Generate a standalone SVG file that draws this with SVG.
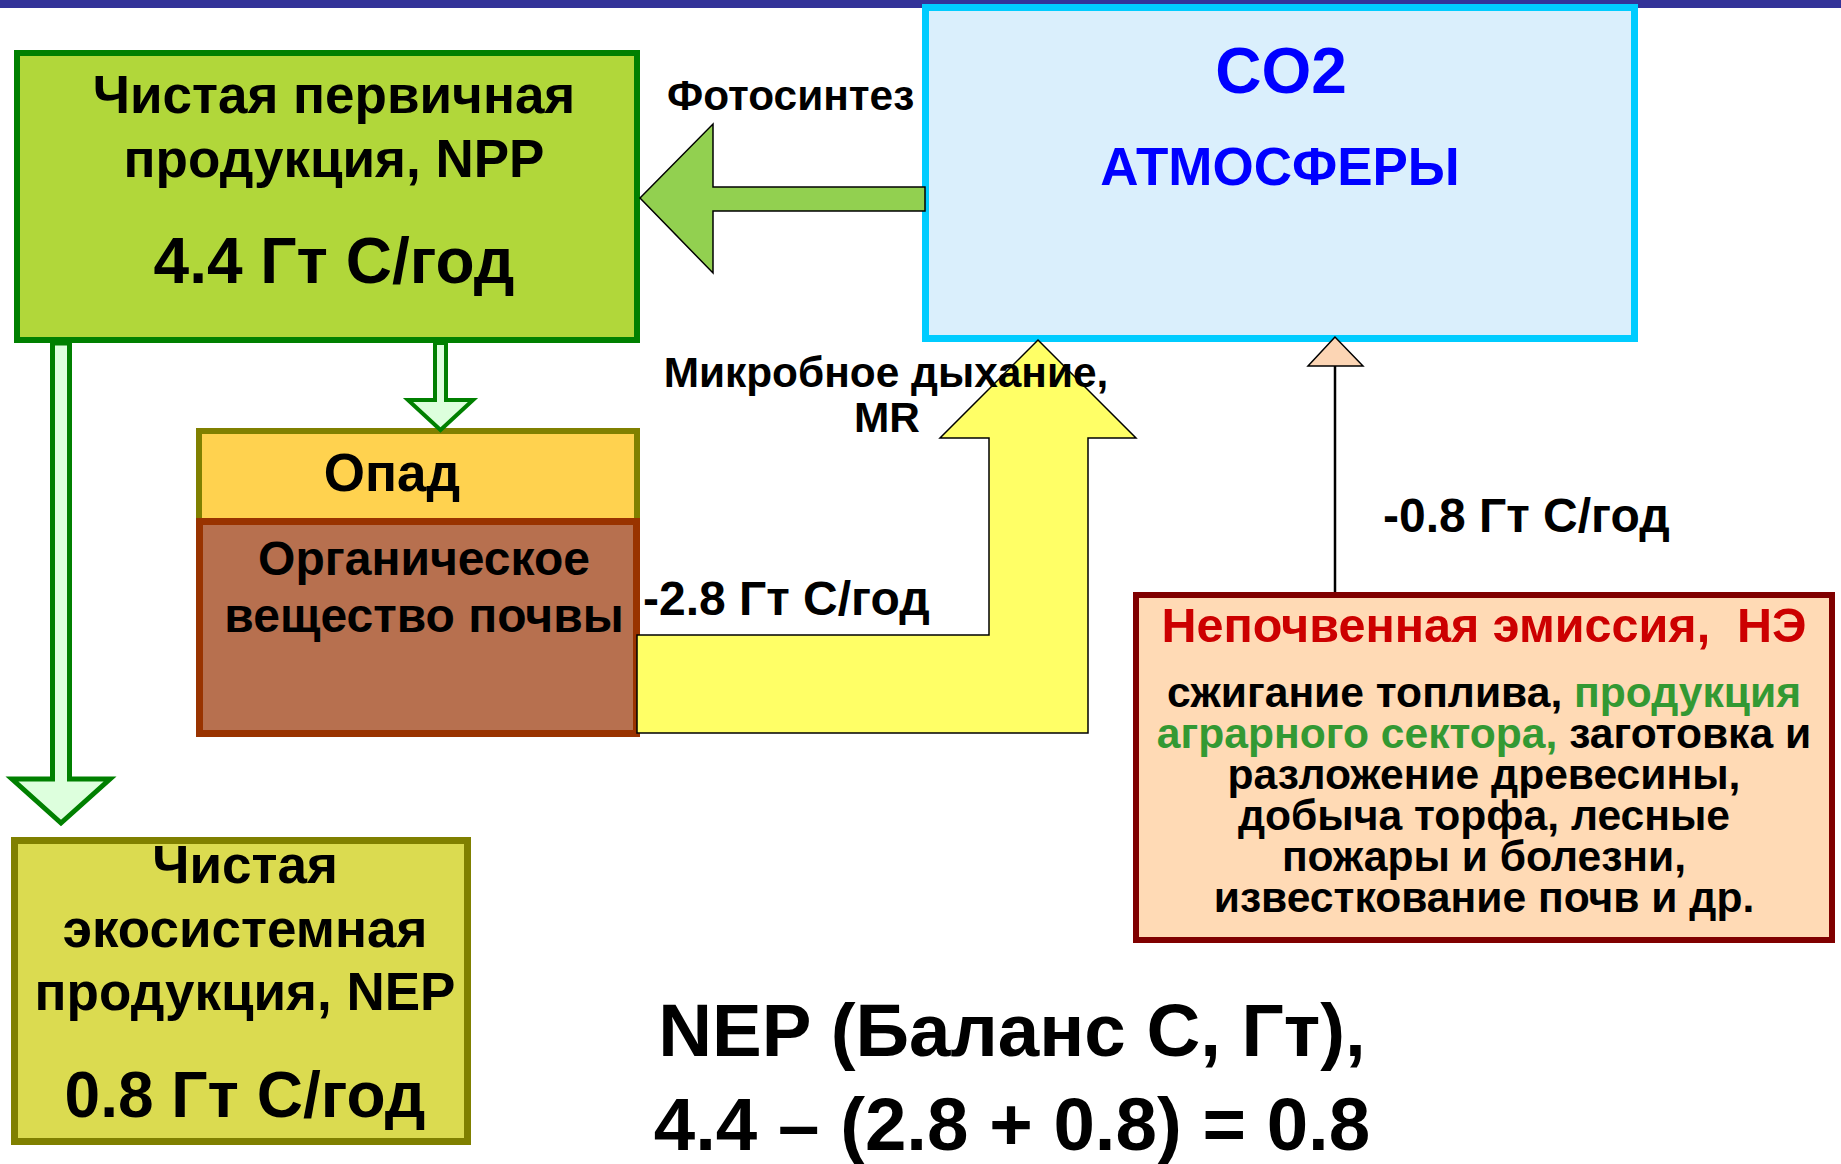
<svg xmlns="http://www.w3.org/2000/svg" width="1841" height="1164" viewBox="0 0 1841 1164">
<style>
text{font-family:"Liberation Sans",Arial,sans-serif;font-weight:bold;fill:#000}
.c{text-anchor:middle}
.blk{stroke:#000;stroke-width:1.5;stroke-linejoin:miter}
.gdown{fill:#DDFFDD;stroke:#008000;stroke-linejoin:miter}
</style>
<rect x="0" y="0" width="1841" height="8" fill="#333399"/>

<g id="npp">
<rect x="17" y="53" width="620" height="287" fill="#B1D73A" stroke="#008000" stroke-width="6"/>
<text class="c" x="334" y="113" font-size="53">Чистая первичная</text>
<text class="c" x="334" y="177" font-size="53">продукция, NPP</text>
<text class="c" x="334" y="283" font-size="64">4.4 Гт С/год</text>
</g>

<g id="co2">
<rect x="925.5" y="7.5" width="709" height="331" fill="#DAEFFC" stroke="#00CCFF" stroke-width="7"/>
<text class="c" x="1281" y="93" font-size="64" style="fill:#0000FF">CO2</text>
<text class="c" x="1280" y="185" font-size="53" style="fill:#0000FF">АТМОСФЕРЫ</text>
</g>

<g id="opad">
<rect x="199" y="431" width="438" height="90" fill="#FFD24F" stroke="#808000" stroke-width="6"/>
<text class="c" x="392" y="491" font-size="53">Опад</text>
</g>

<g id="soil">
<rect x="199.5" y="521.5" width="437" height="212" fill="#B7704F" stroke="#993300" stroke-width="7"/>
<text class="c" x="424" y="575" font-size="48">Органическое</text>
<text class="c" x="424" y="632" font-size="48">вещество почвы</text>
</g>

<g id="nep">
<rect x="14.5" y="840.5" width="453" height="301" fill="#DBDB50" stroke="#808000" stroke-width="7"/>
<text class="c" x="245" y="883" font-size="53">Чистая</text>
<text class="c" x="245" y="947" font-size="53">экосистемная</text>
<text class="c" x="245" y="1010" font-size="53">продукция, NEP</text>
<text class="c" x="245" y="1117" font-size="64">0.8 Гт С/год</text>
</g>

<g id="ne">
<rect x="1136" y="595" width="696" height="345" fill="#FFDAB5" stroke="#800000" stroke-width="6"/>
<text class="c" x="1484" y="642" font-size="48.5" style="fill:#CC0000" xml:space="preserve">Непочвенная эмиссия,  НЭ</text>
<text class="c" x="1484" y="707" font-size="42.6">сжигание топлива, <tspan style="fill:#339933">продукция</tspan></text>
<text class="c" x="1484" y="748" font-size="42.6"><tspan style="fill:#339933">аграрного сектора,</tspan> заготовка и</text>
<text class="c" x="1484" y="789" font-size="42.6">разложение древесины,</text>
<text class="c" x="1484" y="830" font-size="42.6">добыча торфа, лесные</text>
<text class="c" x="1484" y="871" font-size="42.6">пожары и болезни,</text>
<text class="c" x="1484" y="912" font-size="42.6">известкование почв и др.</text>
</g>

<g id="connectors">
<polygon class="blk" fill="#92D050" points="640,198 713,124 713,187 925,187 925,211 713,211 713,273"/>
<polygon class="blk" fill="#FFFF66" points="637,635 989,635 989,438 940,438 1038,340 1136,438 1088,438 1088,733 637,733"/>
<line x1="1335" y1="592" x2="1335" y2="366" stroke="#000" stroke-width="2.5"/>
<polygon class="blk" fill="#FCD5B4" points="1335,337 1308,366 1363,366"/>
<polygon class="gdown" stroke-width="4" points="435,343 446,343 446,400 473,400 440.5,430 408,400 435,400"/>
<polygon class="gdown" stroke-width="5" points="52.5,343 69.5,343 69.5,779 110,779 61,823 12,779 52.5,779"/>
</g>

<g id="labels">
<text x="667" y="110" font-size="42.4">Фотосинтез</text>
<text class="c" x="886" y="387" font-size="42.4">Микробное дыхание,</text>
<text class="c" x="887" y="432" font-size="42.4">MR</text>
<text x="643" y="615" font-size="48">-2.8 Гт С/год</text>
<text x="1383" y="532" font-size="48">-0.8 Гт С/год</text>
</g>

<g id="formula">
<text class="c" x="1012" y="1056" font-size="74.5">NEP (Баланс С, Гт),</text>
<text class="c" x="1012" y="1150" font-size="74.5">4.4 – (2.8 + 0.8) = 0.8</text>
</g>
</svg>
